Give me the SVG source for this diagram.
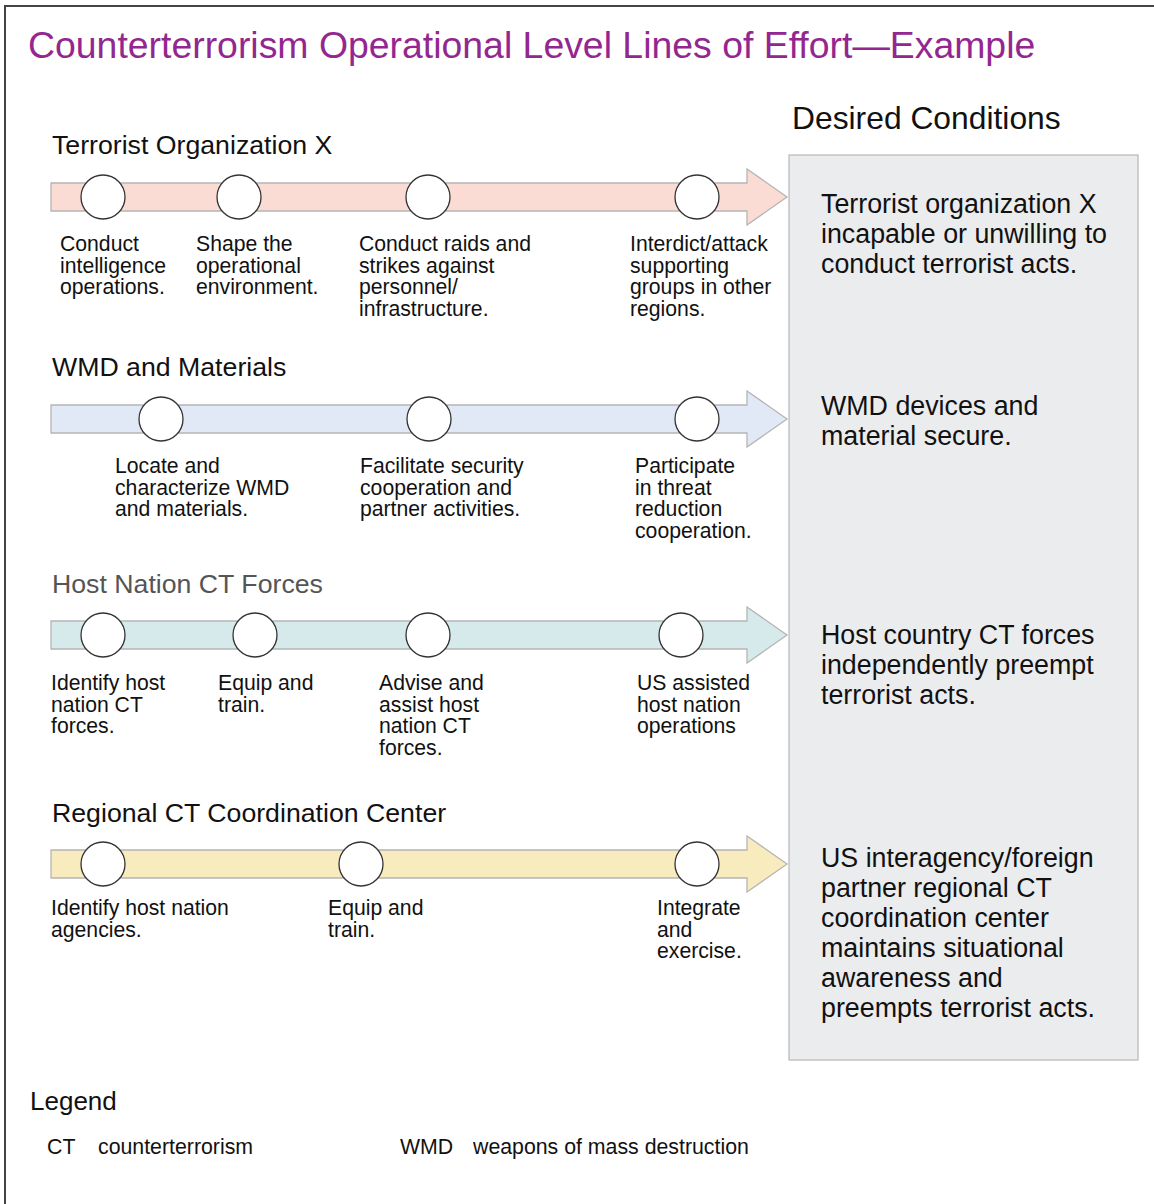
<svg xmlns="http://www.w3.org/2000/svg" width="1154" height="1204" viewBox="0 0 1154 1204">
<defs>
<style>
text{font-family:"Liberation Sans",Arial,sans-serif;fill:#111}
.title{font-size:37.4px;fill:#93278f}
.h{font-size:26.7px}
.dc{font-size:31.8px}
.lab{font-size:21.2px}
.des{font-size:26.8px}
.leg{font-size:26px}
.legt{font-size:21.3px}
.node{fill:#fff;stroke:#333;stroke-width:1.3}
.arrow{stroke:#b5b5b5;stroke-width:1.3}
</style>
</defs>
<rect width="1154" height="1204" fill="#fff"/>
<rect x="5" y="6" width="1170" height="1220" fill="none" stroke="#444" stroke-width="2"/>
<text class="title" x="28" y="58">Counterterrorism Operational Level Lines of Effort—Example</text>
<text class="dc" x="792" y="129">Desired Conditions</text>

<g id="desired-box">
<rect x="789" y="155" width="349" height="905" fill="#ebecee" stroke="#bcbcbc" stroke-width="1.3"/>
</g>

<g id="connectors">
<polygon class="arrow" fill="#fbdcd4" points="51,183 747,183 747,169 787,197 747,225 747,211 51,211"/>
<polygon class="arrow" fill="#e2e9f6" points="51,405 747,405 747,391 787,419 747,447 747,433 51,433"/>
<polygon class="arrow" fill="#d6eaec" points="51,621 747,621 747,607 787,635 747,663 747,649 51,649"/>
<polygon class="arrow" fill="#f8ebbd" points="51,850 747,850 747,836 787,864 747,892 747,878 51,878"/>
</g>

<g id="row1">
<text class="h" x="52" y="154">Terrorist Organization X</text>
<g id="n1a"><circle class="node" cx="103" cy="197" r="22"/><text class="lab" x="60" y="251"><tspan x="60">Conduct</tspan><tspan x="60" dy="21.5">intelligence</tspan><tspan x="60" dy="21.5">operations.</tspan></text></g>
<g id="n1b"><circle class="node" cx="239" cy="197" r="22"/><text class="lab" x="196" y="251"><tspan x="196">Shape the</tspan><tspan x="196" dy="21.5">operational</tspan><tspan x="196" dy="21.5">environment.</tspan></text></g>
<g id="n1c"><circle class="node" cx="428" cy="197" r="22"/><text class="lab" x="359" y="251"><tspan x="359">Conduct raids and</tspan><tspan x="359" dy="21.5">strikes against</tspan><tspan x="359" dy="21.5">personnel/</tspan><tspan x="359" dy="21.5">infrastructure.</tspan></text></g>
<g id="n1d"><circle class="node" cx="697" cy="197" r="22"/><text class="lab" x="630" y="251"><tspan x="630">Interdict/attack</tspan><tspan x="630" dy="21.5">supporting</tspan><tspan x="630" dy="21.5">groups in other</tspan><tspan x="630" dy="21.5">regions.</tspan></text></g>
<g id="d1"><text class="des" x="821" y="213"><tspan x="821">Terrorist organization X</tspan><tspan x="821" dy="30">incapable or unwilling to</tspan><tspan x="821" dy="30">conduct terrorist acts.</tspan></text></g>
</g>

<g id="row2">
<text class="h" x="52" y="376">WMD and Materials</text>
<g id="n2a"><circle class="node" cx="161" cy="419" r="22"/><text class="lab" x="115" y="473"><tspan x="115">Locate and</tspan><tspan x="115" dy="21.5">characterize WMD</tspan><tspan x="115" dy="21.5">and materials.</tspan></text></g>
<g id="n2b"><circle class="node" cx="429" cy="419" r="22"/><text class="lab" x="360" y="473"><tspan x="360">Facilitate security</tspan><tspan x="360" dy="21.5">cooperation and</tspan><tspan x="360" dy="21.5">partner activities.</tspan></text></g>
<g id="n2c"><circle class="node" cx="697" cy="419" r="22"/><text class="lab" x="635" y="473"><tspan x="635">Participate</tspan><tspan x="635" dy="21.5">in threat</tspan><tspan x="635" dy="21.5">reduction</tspan><tspan x="635" dy="21.5">cooperation.</tspan></text></g>
<g id="d2"><text class="des" x="821" y="415"><tspan x="821">WMD devices and</tspan><tspan x="821" dy="30">material secure.</tspan></text></g>
</g>

<g id="row3">
<text class="h" x="52" y="593" style="fill:#555">Host Nation CT Forces</text>
<g id="n3a"><circle class="node" cx="103" cy="635" r="22"/><text class="lab" x="51" y="690"><tspan x="51">Identify host</tspan><tspan x="51" dy="21.5">nation CT</tspan><tspan x="51" dy="21.5">forces.</tspan></text></g>
<g id="n3b"><circle class="node" cx="255" cy="635" r="22"/><text class="lab" x="218" y="690"><tspan x="218">Equip and</tspan><tspan x="218" dy="21.5">train.</tspan></text></g>
<g id="n3c"><circle class="node" cx="428" cy="635" r="22"/><text class="lab" x="379" y="690"><tspan x="379">Advise and</tspan><tspan x="379" dy="21.5">assist host</tspan><tspan x="379" dy="21.5">nation CT</tspan><tspan x="379" dy="21.5">forces.</tspan></text></g>
<g id="n3d"><circle class="node" cx="681" cy="635" r="22"/><text class="lab" x="637" y="690"><tspan x="637">US assisted</tspan><tspan x="637" dy="21.5">host nation</tspan><tspan x="637" dy="21.5">operations</tspan></text></g>
<g id="d3"><text class="des" x="821" y="644"><tspan x="821">Host country CT forces</tspan><tspan x="821" dy="30">independently preempt</tspan><tspan x="821" dy="30">terrorist acts.</tspan></text></g>
</g>

<g id="row4">
<text class="h" x="52" y="822">Regional CT Coordination Center</text>
<g id="n4a"><circle class="node" cx="103" cy="864" r="22"/><text class="lab" x="51" y="915"><tspan x="51">Identify host nation</tspan><tspan x="51" dy="21.5">agencies.</tspan></text></g>
<g id="n4b"><circle class="node" cx="361" cy="864" r="22"/><text class="lab" x="328" y="915"><tspan x="328">Equip and</tspan><tspan x="328" dy="21.5">train.</tspan></text></g>
<g id="n4c"><circle class="node" cx="697" cy="864" r="22"/><text class="lab" x="657" y="915"><tspan x="657">Integrate</tspan><tspan x="657" dy="21.5">and</tspan><tspan x="657" dy="21.5">exercise.</tspan></text></g>
<g id="d4"><text class="des" x="821" y="867"><tspan x="821">US interagency/foreign</tspan><tspan x="821" dy="30">partner regional CT</tspan><tspan x="821" dy="30">coordination center</tspan><tspan x="821" dy="30">maintains situational</tspan><tspan x="821" dy="30">awareness and</tspan><tspan x="821" dy="30">preempts terrorist acts.</tspan></text></g>
</g>

<g id="legend">
<text class="leg" x="30" y="1110">Legend</text>
<text class="legt" x="47" y="1154">CT</text>
<text class="legt" x="98" y="1154">counterterrorism</text>
<text class="legt" x="400" y="1154">WMD</text>
<text class="legt" x="473" y="1154">weapons of mass destruction</text>
</g>
</svg>
